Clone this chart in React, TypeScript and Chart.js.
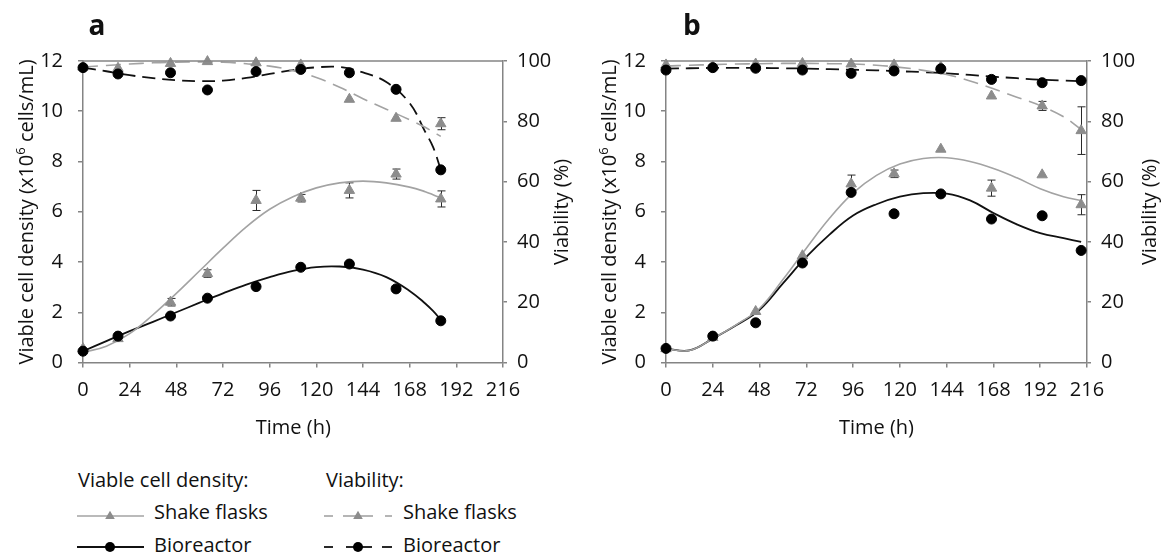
import React, { useEffect, useRef } from 'react';
import { Chart, registerables } from 'chart.js';

Chart.register(...registerables);

// ---------------- Panel a data ----------------
const timesA = [0, 18, 45, 64, 89, 112, 137, 161, 184];
const vcdShakeA = [0.55, 0.95, 2.4, 3.54, 6.45, 6.54, 6.85, 7.5, 6.51];
const vcdShakeErrA = [0.05, 0.05, 0.15, 0.15, 0.4, 0.15, 0.3, 0.2, 0.32];
const vcdBioA = [0.45, 1.05, 1.85, 2.56, 3.02, 3.79, 3.92, 2.93, 1.66];
const viaShakeA = [98.0, 97.6, 99.2, 99.8, 99.4, 98.7, 87.3, 81.0, 79.2];
const viaShakeErrA = [0, 0, 0, 0, 0, 0, 0, 0, 2.0];
const viaBioA = [97.8, 95.7, 96.1, 90.4, 96.5, 97.2, 96.1, 90.6, 63.9];

// trend curves
const trendTimesA = [0, 12, 24, 36, 48, 60, 72, 84, 96, 108, 120, 132, 144, 156, 168, 176, 180, 184];
const trendVcdShakeA = [0.4, 0.65, 1.15, 1.9, 2.75, 3.65, 4.55, 5.4, 6.1, 6.6, 6.95, 7.15, 7.22, 7.15, 6.98, 6.8, 6.68, 6.55];
const trendVcdBioA = [0.45, 0.85, 1.25, 1.62, 2.0, 2.38, 2.75, 3.1, 3.4, 3.65, 3.8, 3.82, 3.7, 3.4, 2.85, 2.35, 2.05, 1.7];
const trendViaShakeA = [98.0, 98.5, 99.0, 99.4, 99.6, 99.7, 99.6, 99.1, 98.3, 96.8, 94.5, 91.3, 87.5, 84.0, 80.5, 78.0, 76.5, 75.0];
const trendViaBioA = [97.8, 96.6, 95.3, 94.3, 93.6, 93.3, 93.5, 94.4, 95.7, 97.0, 97.9, 98.0, 96.2, 93.0, 86.0, 76.5, 71.5, 64.0];

// ---------------- Panel b data ----------------
const timesB = [0, 24, 46, 70, 95, 117, 141, 167, 193, 213];
const vcdShakeB = [0.55, 1.0, 2.03, 4.25, 7.11, 7.51, 8.49, 6.94, 7.47, 6.28];
const vcdShakeErrB = [0.05, 0.05, 0.05, 0.1, 0.35, 0.15, 0.1, 0.32, 0.05, 0.4];
const vcdBioB = [0.56, 1.05, 1.58, 3.96, 6.77, 5.92, 6.71, 5.71, 5.84, 4.46];
const viaShakeB = [98.7, 98.1, 99.0, 99.2, 99.0, 98.7, 98.0, 88.4, 85.1, 76.9];
const viaShakeErrB = [0, 0.8, 0, 0, 0, 0, 0, 0, 1.5, 7.9];
const viaBioB = [97.0, 97.8, 97.6, 97.0, 95.9, 96.7, 97.4, 93.9, 92.8, 93.5];

const trendTimesB = [0, 12, 24, 36, 48, 60, 72, 84, 96, 108, 120, 132, 144, 156, 168, 180, 192, 204, 213];
const trendVcdShakeB = [0.55, 0.48, 0.95, 1.5, 2.15, 3.3, 4.55, 5.75, 6.75, 7.45, 7.9, 8.12, 8.15, 8.0, 7.72, 7.35, 6.92, 6.6, 6.45];
const trendVcdBioB = [0.55, 0.48, 0.95, 1.48, 2.1, 3.15, 4.2, 5.1, 5.85, 6.3, 6.6, 6.74, 6.72, 6.45, 5.95, 5.5, 5.15, 4.95, 4.8];
const trendViaShakeB = [98.3, 98.6, 98.8, 99.0, 99.1, 99.2, 99.2, 99.1, 99.0, 98.6, 97.9, 96.9, 95.5, 93.4, 90.8, 88.0, 85.2, 81.5, 77.3];
const trendViaBioB = [97.5, 97.6, 97.7, 97.7, 97.7, 97.6, 97.5, 97.3, 97.1, 96.9, 96.6, 96.3, 95.9, 95.4, 94.8, 94.3, 93.8, 93.5, 93.3];

// axis ticks
const timeTicks = { min: 0, max: 216, step: 24 };
const vcdTicks = { min: 0, max: 12, step: 2 };
const viaTicks = { min: 0, max: 100, step: 20 };

// ---------------- styles ----------------
const FONT = "'Open Sans', 'Noto Sans', sans-serif";
const AXIS = '#848484';
const TEXT = '#111111';
const GRAY_MARK = '#8c8c8c';
const GRAY_LINE = '#a3a3a3';
const BLACK = '#000000';

type PanelData = {
  times: number[];
  vcdShake: number[];
  vcdShakeErr: number[];
  vcdBio: number[];
  viaShake: number[];
  viaShakeErr: number[];
  viaBio: number[];
  tTimes: number[];
  tVcdShake: number[];
  tVcdBio: number[];
  tViaShake: number[];
  tViaBio: number[];
};

type Geom = { left: number; width: number; height: number; yWidth: number; y2Width: number; top: number; xHeight: number };

const toPts = (xs: number[], ys: number[]) => xs.map((x, i) => ({ x, y: ys[i] }));

const errorBarPlugin = {
  id: 'errorBars',
  beforeDatasetsDraw(chart: any) {
    const ctx = chart.ctx;
    chart.data.datasets.forEach((ds: any, i: number) => {
      const errs: number[] | undefined = ds.errorBars;
      if (!errs) return;
      const meta = chart.getDatasetMeta(i);
      const scale = chart.scales[ds.yAxisID];
      ctx.save();
      ctx.strokeStyle = '#2a2a2a';
      ctx.lineWidth = 1;
      meta.data.forEach((pt: any, j: number) => {
        const e = errs[j];
        if (!e || e < 0.12 * (scale.max - scale.min) / 12) return;
        const v = ds.data[j].y;
        const yT = scale.getPixelForValue(v + e);
        const yB = scale.getPixelForValue(v - e);
        const x = Math.round(pt.x) + 0.5;
        ctx.beginPath();
        ctx.moveTo(x, yT);
        ctx.lineTo(x, yB);
        ctx.moveTo(x - 4, yT);
        ctx.lineTo(x + 4, yT);
        ctx.moveTo(x - 4, yB);
        ctx.lineTo(x + 4, yB);
        ctx.stroke();
      });
      ctx.restore();
    });
  },
};

const topFramePlugin = {
  id: 'topFrame',
  afterDraw(chart: any) {
    const { ctx, chartArea } = chart;
    ctx.save();
    ctx.strokeStyle = AXIS;
    ctx.lineWidth = 1.5;
    ctx.beginPath();
    ctx.moveTo(chartArea.left, chartArea.top);
    ctx.lineTo(chartArea.right, chartArea.top);
    ctx.stroke();
    ctx.restore();
  },
};

function axisCommon(tl: number) {
  return {
    grid: { display: true, drawOnChartArea: false, drawTicks: true, tickLength: tl, color: AXIS, lineWidth: 1.5 },
    border: { display: true, color: AXIS, width: 1.5 },
  };
}

function buildConfig(p: PanelData, g: Geom): any {
  const font = { family: FONT, size: 20 };
  return {
    type: 'scatter',
    data: {
      datasets: [
        {
          label: 'Viability bioreactor',
          data: toPts(p.times, p.viaBio),
          yAxisID: 'y2',
          pointStyle: 'circle',
          pointRadius: 5,
          pointBackgroundColor: BLACK,
          pointBorderColor: BLACK,
          pointBorderWidth: 1,
          showLine: false,
          order: 0,
          clip: false,
        },
        {
          label: 'VCD bioreactor',
          data: toPts(p.times, p.vcdBio),
          yAxisID: 'y',
          pointStyle: 'circle',
          pointRadius: 5,
          pointBackgroundColor: BLACK,
          pointBorderColor: BLACK,
          pointBorderWidth: 1,
          showLine: false,
          order: 0,
          clip: false,
        },
        {
          label: 'Viability shake flasks',
          data: toPts(p.times, p.viaShake),
          yAxisID: 'y2',
          pointStyle: 'triangle',
          pointRadius: 6,
          pointBackgroundColor: GRAY_MARK,
          pointBorderColor: GRAY_MARK,
          pointBorderWidth: 1,
          showLine: false,
          errorBars: p.viaShakeErr,
          order: 1,
          clip: false,
        },
        {
          label: 'VCD shake flasks',
          data: toPts(p.times, p.vcdShake),
          yAxisID: 'y',
          pointStyle: 'triangle',
          pointRadius: 6,
          pointBackgroundColor: GRAY_MARK,
          pointBorderColor: GRAY_MARK,
          pointBorderWidth: 1,
          showLine: false,
          errorBars: p.vcdShakeErr,
          order: 1,
          clip: false,
        },
        {
          label: 'VCD shake trend',
          data: toPts(p.tTimes, p.tVcdShake),
          yAxisID: 'y',
          showLine: true,
          pointRadius: 0,
          borderColor: GRAY_LINE,
          borderWidth: 1.6,
          tension: 0.4,
          fill: false,
          order: 2,
        },
        {
          label: 'VCD bio trend',
          data: toPts(p.tTimes, p.tVcdBio),
          yAxisID: 'y',
          showLine: true,
          pointRadius: 0,
          borderColor: '#111',
          borderWidth: 1.8,
          tension: 0.4,
          fill: false,
          order: 2,
        },
        {
          label: 'Viability shake trend',
          data: toPts(p.tTimes, p.tViaShake),
          yAxisID: 'y2',
          showLine: true,
          pointRadius: 0,
          borderColor: GRAY_LINE,
          borderWidth: 1.6,
          borderDash: [15, 8],
          tension: 0.4,
          fill: false,
          order: 2,
        },
        {
          label: 'Viability bio trend',
          data: toPts(p.tTimes, p.tViaBio),
          yAxisID: 'y2',
          showLine: true,
          pointRadius: 0,
          borderColor: '#111',
          borderWidth: 1.8,
          borderDash: [13, 7],
          tension: 0.4,
          fill: false,
          order: 2,
        },
      ],
    },
    options: {
      animation: false,
      responsive: false,
      maintainAspectRatio: false,
      events: [],
      layout: { padding: { top: g.top, left: 0, right: 0, bottom: 0 } },
      plugins: { legend: { display: false }, tooltip: { enabled: false }, title: { display: false } },
      scales: {
        x: {
          type: 'linear',
          position: 'bottom',
          min: timeTicks.min,
          max: timeTicks.max,
          ticks: { stepSize: timeTicks.step, color: TEXT, font, padding: 11, maxRotation: 0, autoSkip: false },
          ...axisCommon(5),
          afterFit: (s: any) => { s.height = g.xHeight; },
        },
        y: {
          type: 'linear',
          position: 'left',
          min: vcdTicks.min,
          max: vcdTicks.max,
          ticks: { stepSize: vcdTicks.step, color: TEXT, font, padding: 15 },
          ...axisCommon(5),
          afterFit: (s: any) => { s.width = g.yWidth; },
        },
        y2: {
          type: 'linear',
          position: 'right',
          min: viaTicks.min,
          max: viaTicks.max,
          ticks: { stepSize: viaTicks.step, color: TEXT, font, padding: 10 },
          ...axisCommon(4),
          afterFit: (s: any) => { s.width = g.y2Width; },
        },
      },
    },
    plugins: [errorBarPlugin, topFramePlugin],
  };
}

function Panel({ data, geom }: { data: PanelData; geom: Geom }) {
  const ref = useRef<HTMLCanvasElement>(null);
  useEffect(() => {
    const chart = new Chart(ref.current as HTMLCanvasElement, buildConfig(data, geom));
    return () => chart.destroy();
  }, []);
  return (
    <canvas
      ref={ref}
      width={geom.width}
      height={geom.height}
      style={{ position: 'absolute', left: geom.left, top: 0, width: geom.width, height: geom.height }}
    />
  );
}

const panelA: PanelData = {
  times: timesA, vcdShake: vcdShakeA, vcdShakeErr: vcdShakeErrA, vcdBio: vcdBioA,
  viaShake: viaShakeA, viaShakeErr: viaShakeErrA, viaBio: viaBioA,
  tTimes: trendTimesA, tVcdShake: trendVcdShakeA, tVcdBio: trendVcdBioA, tViaShake: trendViaShakeA, tViaBio: trendViaBioA,
};
const panelB: PanelData = {
  times: timesB, vcdShake: vcdShakeB, vcdShakeErr: vcdShakeErrB, vcdBio: vcdBioB,
  viaShake: viaShakeB, viaShakeErr: viaShakeErrB, viaBio: viaBioB,
  tTimes: trendTimesB, tVcdShake: trendVcdShakeB, tVcdBio: trendVcdBioB, tViaShake: trendViaShakeB, tViaBio: trendViaBioB,
};

const geomA: Geom = { left: 0, width: 590, height: 440, yWidth: 83, y2Width: 87, top: 61, xHeight: 77.5 };
const geomB: Geom = { left: 583, width: 587, height: 440, yWidth: 83, y2Width: 83, top: 61, xHeight: 77.5 };

const textBase: React.CSSProperties = {
  position: 'absolute',
  fontFamily: FONT,
  fontSize: 20,
  lineHeight: '24px',
  height: 24,
  color: TEXT,
  whiteSpace: 'nowrap',
};

function VTitle({ cx, cy, children }: { cx: number; cy: number; children: React.ReactNode }) {
  return (
    <div style={{ ...textBase, width: 400, left: cx - 200, top: cy - 12, textAlign: 'center', transform: 'rotate(-90deg)' }}>
      {children}
    </div>
  );
}

function HText({ x, baseline, children, center }: { x: number; baseline: number; children: React.ReactNode; center?: boolean }) {
  const style: React.CSSProperties = center
    ? { ...textBase, width: 200, left: x - 100, top: baseline - 20, textAlign: 'center' }
    : { ...textBase, left: x, top: baseline - 20 };
  return <div style={style}>{children}</div>;
}

const vcdTitle = (
  <span>
    Viable cell density (x10<span style={{ fontSize: 13, position: 'relative', top: -8 }}>6</span> cells/mL)
  </span>
);

function Legend() {
  const r2 = 516;
  const r3 = 547;
  return (
    <>
      <HText x={78} baseline={488}>Viable cell density:</HText>
      <HText x={326} baseline={488}>Viability:</HText>
      <HText x={154} baseline={520}>Shake flasks</HText>
      <HText x={154} baseline={552.5}>Bioreactor</HText>
      <HText x={403} baseline={520}>Shake flasks</HText>
      <HText x={403} baseline={552.5}>Bioreactor</HText>
      <svg width={1170} height={558} style={{ position: 'absolute', left: 0, top: 0, pointerEvents: 'none' }}>
        <line x1={77} y1={r2} x2={144} y2={r2} stroke={GRAY_LINE} strokeWidth={1.6} />
        <polygon points={`${110 - 4.8},${r2 + 3} ${110 + 4.8},${r2 + 3} 110,${r2 - 5.3}`} fill={GRAY_MARK} />
        <line x1={77} y1={r3} x2={144} y2={r3} stroke="#111" strokeWidth={1.8} />
        <circle cx={110} cy={r3} r={5} fill={BLACK} />
        <line x1={324} y1={r2} x2={333} y2={r2} stroke={GRAY_LINE} strokeWidth={1.6} />
        <line x1={343} y1={r2} x2={373} y2={r2} stroke={GRAY_LINE} strokeWidth={1.6} />
        <line x1={385} y1={r2} x2={392} y2={r2} stroke={GRAY_LINE} strokeWidth={1.6} />
        <polygon points={`${358 - 4.8},${r2 + 3} ${358 + 4.8},${r2 + 3} 358,${r2 - 5.3}`} fill={GRAY_MARK} />
        <line x1={324} y1={r3} x2={333} y2={r3} stroke="#111" strokeWidth={1.8} />
        <line x1={346} y1={r3} x2={372} y2={r3} stroke="#111" strokeWidth={1.8} />
        <line x1={382} y1={r3} x2={392} y2={r3} stroke="#111" strokeWidth={1.8} />
        <circle cx={358} cy={r3} r={5} fill={BLACK} />
      </svg>
    </>
  );
}

export default function App() {
  return (
    <div style={{ position: 'fixed', left: 0, top: 0, width: 1170, height: 558, background: '#fff', overflow: 'hidden', fontFamily: FONT }}>
      <Panel data={panelA} geom={geomA} />
      <Panel data={panelB} geom={geomB} />
      <div style={{ position: 'absolute', left: 88.5, top: 10, fontFamily: FONT, fontWeight: 700, fontSize: 28, lineHeight: '28px', color: '#111' }}>a</div>
      <div style={{ position: 'absolute', left: 683, top: 10, fontFamily: FONT, fontWeight: 700, fontSize: 28, lineHeight: '28px', color: '#111' }}>b</div>
      <VTitle cx={25.7} cy={211.75}>{vcdTitle}</VTitle>
      <VTitle cx={609} cy={211.75}>{vcdTitle}</VTitle>
      <VTitle cx={561} cy={211.75}>Viability (%)</VTitle>
      <VTitle cx={1149} cy={211.75}>Viability (%)</VTitle>
      <HText x={293.3} baseline={435} center>Time (h)</HText>
      <HText x={876.5} baseline={435} center>Time (h)</HText>
      <Legend />
    </div>
  );
}
